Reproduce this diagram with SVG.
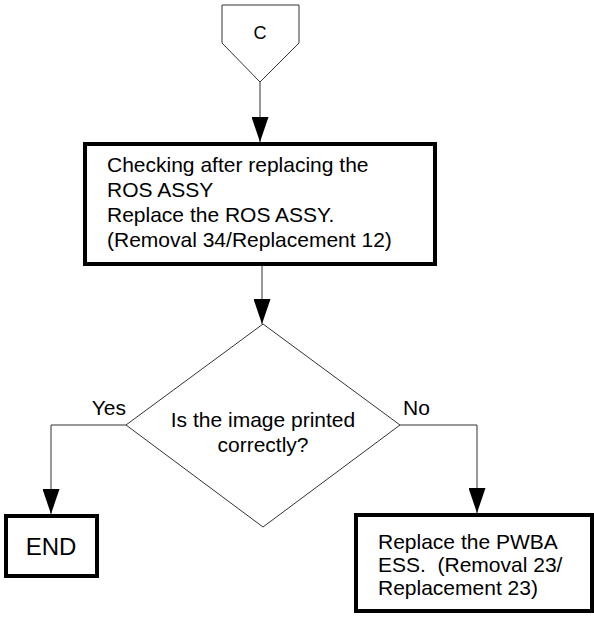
<svg xmlns="http://www.w3.org/2000/svg" width="594" height="617" viewBox="0 0 594 617">
<defs>
<style>
.t{font-family:"Liberation Sans",Arial,sans-serif;font-size:21px;fill:#000;white-space:pre}
.thin{fill:#fff;stroke:#333;stroke-width:1}
.box{fill:#fff;stroke:#000;stroke-width:4}
.con{fill:none;stroke:#333;stroke-width:1}
</style>
<marker id="ah" viewBox="0 0 25 17" refX="25" refY="8.5" markerWidth="25" markerHeight="17" markerUnits="userSpaceOnUse" orient="auto">
<path d="M0,0 L25,8.5 L0,17 Z" fill="#000"/>
</marker>
</defs>
<g id="connectors">
<line class="con" x1="260" y1="82" x2="260" y2="142" marker-end="url(#ah)"/>
<line class="con" x1="262" y1="266" x2="262" y2="324" marker-end="url(#ah)"/>
<polyline class="con" points="126,425 51,425 51,514" marker-end="url(#ah)"/>
<polyline class="con" points="400,425 477,425 477,513" marker-end="url(#ah)"/>
</g>
<g id="nodeC">
<polygon class="thin" points="222,5 299,5 299,43 260,82 222,43"/>
<text class="t" x="260" y="39" text-anchor="middle" style="font-size:18px">C</text>
</g>
<g id="check">
<rect class="box" x="85" y="144" width="350" height="120"/>
<text class="t" x="107" y="172">Checking after replacing the</text>
<text class="t" x="107" y="197">ROS ASSY</text>
<text class="t" x="107" y="222">Replace the ROS ASSY.</text>
<text class="t" x="107" y="247">(Removal 34/Replacement 12)</text>
</g>
<g id="decision">
<polygon class="thin" points="263,324 400,425 263,527 126,425"/>
<text class="t" x="263" y="427" text-anchor="middle">Is the image printed</text>
<text class="t" x="263" y="452" text-anchor="middle">correctly?</text>
<text class="t" x="126" y="415" text-anchor="end">Yes</text>
<text class="t" x="403" y="415">No</text>
</g>
<g id="end">
<rect class="box" x="6" y="516" width="91" height="60"/>
<text class="t" x="51" y="555" text-anchor="middle" style="font-size:24px">END</text>
</g>
<g id="replace">
<rect class="box" x="356" y="515" width="236" height="96"/>
<text class="t" x="378" y="549">Replace the PWBA</text>
<text class="t" x="378" y="572">ESS.  (Removal 23/</text>
<text class="t" x="378" y="595">Replacement 23)</text>
</g>
</svg>
